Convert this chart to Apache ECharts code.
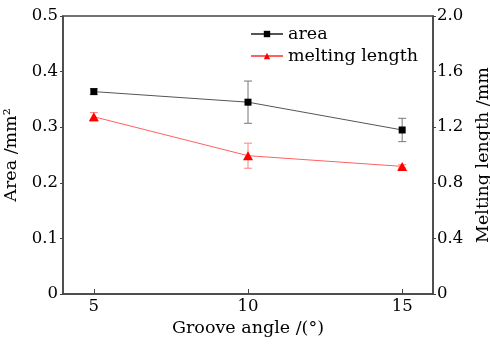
<!DOCTYPE html>
<html>
<head>
<meta charset="utf-8">
<script src="https://cdn.jsdelivr.net/npm/echarts@6/dist/echarts.min.js"></script>
<style>html,body{margin:0;padding:0;background:#fff}#c{width:490px;height:344px}</style>
</head>
<body>
<div id="c"></div>
<script>
var angles = [5, 10, 15];
var areaVals = [0.364, 0.345, 0.295];
var areaErr = [0.005, 0.038, 0.021];
var lengthVals = [1.275, 0.995, 0.918];
var lengthErr = [0.03, 0.09, 0.012];
var xTicks = [5, 10, 15];

var FONT = 'DejaVu Serif';
var FS = 17.5;
var TFS = 16.5;
var chart = echarts.init(document.getElementById('c'), null, {renderer: 'canvas'});

function pairs(xs, ys) { return xs.map(function (x, i) { return [x, ys[i]]; }); }
function errData(xs, ys, es) { return xs.map(function (x, i) { return [x, ys[i] - es[i], ys[i] + es[i]]; }); }
function errRender(color) {
  return function (params, api) {
    var lo = api.coord([api.value(0), api.value(1)]);
    var hi = api.coord([api.value(0), api.value(2)]);
    var w = 4;
    var st = {stroke: color, lineWidth: 1};
    return {type: 'group', children: [
      {type: 'line', shape: {x1: lo[0], y1: lo[1], x2: hi[0], y2: hi[1]}, style: st},
      {type: 'line', shape: {x1: lo[0] - w, y1: lo[1], x2: lo[0] + w, y2: lo[1]}, style: st},
      {type: 'line', shape: {x1: hi[0] - w, y1: hi[1], x2: hi[0] + w, y2: hi[1]}, style: st}
    ]};
  };
}

var axisLineStyle = {color: '#444', width: 1.5};
var labelStyle = {color: '#000', fontFamily: FONT, fontSize: TFS};

chart.setOption({
  animation: false,
  grid: {left: 63, right: 57, top: 16, bottom: 50, containLabel: false, outerBoundsMode: 'none',
         show: true, borderColor: '#444', borderWidth: 1.5, backgroundColor: 'transparent'},
  legend: {
    left: 245, top: 20, orient: 'vertical', itemWidth: 32, itemHeight: 8, itemGap: 4,
    textStyle: {color: '#000', fontFamily: FONT, fontSize: FS, lineHeight: 17},
    data: ['area', 'melting length']
  },
  xAxis: {
    type: 'value', min: 4, max: 16,
    name: 'Groove angle /(°)', nameLocation: 'middle', nameGap: 25,
    nameTextStyle: {color: '#000', fontFamily: FONT, fontSize: FS},
    axisLine: {show: true, lineStyle: axisLineStyle},
    axisTick: {show: true, inside: true, length: 5, customValues: xTicks, lineStyle: {color: '#444', width: 1}},
    axisLabel: Object.assign({margin: 4, customValues: xTicks}, labelStyle),
    splitLine: {show: false}
  },
  yAxis: [{
    type: 'value', min: 0, max: 0.5, interval: 0.1, position: 'left',
    name: 'Area /mm²', nameLocation: 'middle', nameGap: 38, nameRotate: 90,
    nameTextStyle: {color: '#000', fontFamily: FONT, fontSize: FS},
    axisLine: {show: true, lineStyle: axisLineStyle},
    axisTick: {show: true, inside: false, length: 3, lineStyle: {color: '#444', width: 1}},
    axisLabel: Object.assign({margin: 5, formatter: function (v) { return v === 0 ? '0' : v.toFixed(1); }}, labelStyle),
    splitLine: {show: false}
  }, {
    type: 'value', min: 0, max: 2.0, interval: 0.4, position: 'right',
    name: 'Melting length /mm', nameLocation: 'middle', nameGap: 39, nameRotate: 90,
    nameTextStyle: {color: '#000', fontFamily: FONT, fontSize: FS},
    axisLine: {show: true, lineStyle: axisLineStyle},
    axisTick: {show: true, inside: false, length: 3, lineStyle: {color: '#444', width: 1}},
    axisLabel: Object.assign({margin: 4, formatter: function (v) { return v === 0 ? '0' : v.toFixed(1); }}, labelStyle),
    splitLine: {show: false}
  }],
  series: [{
    type: 'custom', name: 'areaErr', yAxisIndex: 0, renderItem: errRender('#777'),
    data: errData(angles, areaVals, areaErr), encode: {x: 0, y: [1, 2]}, z: 1, silent: true
  }, {
    type: 'custom', name: 'lengthErr', yAxisIndex: 1, renderItem: errRender('#ff8080'),
    data: errData(angles, lengthVals, lengthErr), encode: {x: 0, y: [1, 2]}, z: 1, silent: true
  }, {
    type: 'line', name: 'area', yAxisIndex: 0, data: pairs(angles, areaVals),
    symbol: 'rect', symbolSize: 7, showAllSymbol: true,
    lineStyle: {color: '#555', width: 1}, itemStyle: {color: '#000'}, z: 3
  }, {
    type: 'line', name: 'melting length', yAxisIndex: 1, data: pairs(angles, lengthVals),
    symbol: 'triangle', symbolSize: [10, 9],
    lineStyle: {color: '#ff6060', width: 1}, itemStyle: {color: '#ff0000'}, z: 3
  }]
});
</script>
</body>
</html>
